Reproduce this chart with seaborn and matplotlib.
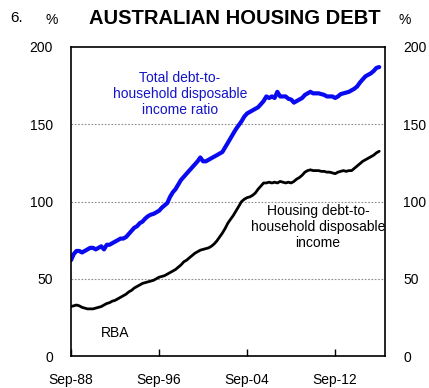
import pandas as pd
import matplotlib
matplotlib.use("Agg")
import matplotlib.pyplot as plt
import seaborn as sns

# Quarterly ratios, Sep-1988 to Sep-2016 (per cent of household disposable income)
total_debt = [
    62,
    66, 68, 68, 67,
    68, 69, 70, 70,
    69, 70, 71, 69,
    72, 72, 73, 74,
    75, 76, 76, 77,
    79, 81, 83, 84,
    86, 87, 89, 90.5,
    91.5, 92, 93, 94,
    96, 97.5, 99, 103,
    106, 108, 111, 114,
    116, 118, 120, 122,
    124, 126, 128.5, 126,
    126, 127, 128, 129,
    130, 131, 132, 135,
    138, 141, 144, 147,
    149.5, 152, 155, 157,
    158, 159, 160, 161,
    163, 165, 168, 167,
    168, 167, 171, 168,
    168, 168, 166.5, 166,
    164, 165, 166, 167,
    169, 170, 171, 170,
    170, 170, 169.5, 169,
    168, 168, 168, 167,
    168, 169.5, 170, 170.5,
    171, 172, 173, 174.5,
    177, 179, 181, 182,
    183, 184.5, 186.5, 187,
]
housing_debt = [
    32,
    32.5, 33, 32.5, 31.5,
    31, 30.5, 30.5, 30.5,
    31, 31.5, 32, 33,
    34, 34.5, 35.5, 36,
    37, 38, 39, 40,
    41.5, 42.5, 44, 45,
    46, 47, 47.5, 48,
    48.5, 49, 50, 51,
    51.5, 52, 53, 54,
    55, 56, 57.5, 59,
    61, 62, 63.5, 65,
    66.5, 67.5, 68.5, 69,
    69.5, 70, 71, 72.5,
    74.5, 77, 79.5, 82.5,
    86, 88.5, 91, 94,
    97, 100, 101.5, 102.5,
    103, 104, 105.5, 108,
    110, 112, 112, 112.5,
    112, 112.5, 112, 113,
    112.5, 112, 112.5, 112,
    113, 114.5, 115.5, 117,
    119, 120, 120.5, 120,
    120, 120, 119.5, 119.5,
    119, 119, 118.5, 118,
    119, 119.5, 120, 119.5,
    120, 120, 121.5, 123,
    124.5, 126, 127, 128,
    129, 130, 131.5, 132.5,
]
tick_dates = ["1988-09-30", "1996-09-30", "2004-09-30", "2012-09-30"]
tick_labels = ["Sep-88", "Sep-96", "Sep-04", "Sep-12"]
y_ticks = [0, 50, 100, 150, 200]

dates = pd.date_range("1988-09-30", periods=len(total_debt), freq="QE")
df = pd.DataFrame({"date": dates, "total": total_debt, "housing": housing_debt})

sns.set_style("white")
plt.rcParams["font.family"] = ["Liberation Sans", "DejaVu Sans"]
plt.rcParams["text.color"] = "black"
plt.rcParams["xtick.color"] = "black"
plt.rcParams["ytick.color"] = "black"

fig = plt.figure(figsize=(4.29, 3.88), dpi=100)
ax = fig.add_axes([71 / 429, 32 / 388, 314 / 429, 309 / 388])

sns.lineplot(data=df, x="date", y="total", ax=ax, color="#0a0af0", lw=3.0)
sns.lineplot(data=df, x="date", y="housing", ax=ax, color="black", lw=2.0)

ax.set_xlim(pd.Timestamp("1988-09-30"), pd.Timestamp("2017-04-10"))
ax.set_ylim(0, 200)
ax.set_xticks(pd.to_datetime(tick_dates))
ax.set_xticklabels(tick_labels)
ax.set_yticks(y_ticks)
ax.set_xlabel("")
ax.set_ylabel("")

# dotted gridlines at the inner levels only
for v in y_ticks[1:-1]:
    ax.axhline(v, color="#8c8c8c", lw=0.8, ls=(0, (1.5, 1.5)), zorder=0)

for s in ax.spines.values():
    s.set_color("black")
    s.set_linewidth(1.2)

ax.tick_params(axis="x", direction="in", length=5, width=1, pad=12,
               labelsize=10, top=False, bottom=True, colors="black")
ax.tick_params(axis="y", direction="in", length=0, pad=13, labelsize=10,
               left=True, right=True, labelleft=True, labelright=True,
               colors="black")

ax.text(0.347, 0.848, "Total debt-to-\nhousehold disposable\nincome ratio",
        transform=ax.transAxes, ha="center", va="center", fontsize=10,
        color="#1414c8", linespacing=1.15)
ax.text(0.787, 0.417, "Housing debt-to-\nhousehold disposable\nincome",
        transform=ax.transAxes, ha="center", va="center", fontsize=10,
        color="black", linespacing=1.15)
ax.text(0.14, 0.074, "RBA", transform=ax.transAxes, ha="center",
        va="center", fontsize=10, color="black")

fig.text(235 / 429, 1 - 19 / 388, "AUSTRALIAN HOUSING DEBT", ha="center",
         va="center", fontsize=14.5, fontweight="bold", color="black")
fig.text(10 / 429, 1 - 18 / 388, "6.", ha="left", va="center", fontsize=11,
         color="black")
fig.text(52 / 429, 1 - 20 / 388, "%", ha="center", va="center", fontsize=10,
         color="black")
fig.text(405 / 429, 1 - 20 / 388, "%", ha="center", va="center", fontsize=10,
         color="black")

fig.savefig("out.png", dpi=100)
